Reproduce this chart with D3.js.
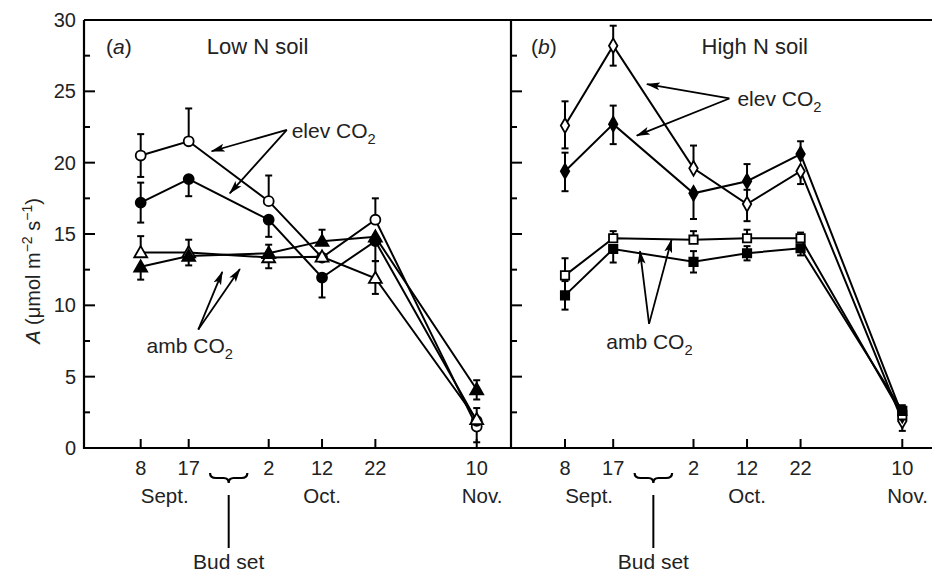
<!DOCTYPE html>
<html>
<head>
<meta charset="utf-8">
<script src="https://d3js.org/d3.v7.min.js"></script>
<style>
  body { margin: 0; background: white; }
  svg { display: block; }
  text { font-family: "Liberation Sans", Arial, sans-serif; fill: #222; }
  .series-line { fill: none; stroke: black; stroke-width: 2px; }
  .err { stroke: black; stroke-width: 2px; }
  .frame { fill: none; stroke: black; stroke-width: 2.2px; }
  .tick { stroke: black; stroke-width: 2px; }
  .arrow { stroke: black; stroke-width: 1.8px; fill: none; }
</style>
</head>
<body>
<script>
// sample dates, as days after 8 Sept
var sampleDays = [0, 9, 24, 34, 44, 63]
var dayLabels = ["8", "17", "2", "12", "22", "10"]
var monthLabels = ["Sept.", "Oct.", "Nov."]
var monthDays = [4.5, 34, 64]
var budSetDays = [13, 20]
var yTicks = [0, 5, 10, 15, 20, 25, 30]

// (a) Low N soil
var lowElevOpen = [20.5, 21.5, 17.3, 13.35, 16.0, 1.5]
var lowElevOpenUp = [1.5, 2.3, 1.8, 0, 1.5, 0]
var lowElevOpenDown = [1.5, 0, 0, 0, 0, 1.1]

var lowElevFilled = [17.2, 18.85, 16.0, 11.95, 14.5, 1.9]
var lowElevFilledUp = [1.4, 0, 0, 0, 0, 0]
var lowElevFilledDown = [1.4, 1.2, 1.2, 1.4, 1.4, 0]

var lowAmbOpen = [13.7, 13.7, 13.35, 13.4, 11.9, 2.0]
var lowAmbOpenUp = [1.15, 0.9, 0, 0, 1.2, 0.8]
var lowAmbOpenDown = [0, 0, 0.75, 0, 1.1, 0]

var lowAmbFilled = [12.7, 13.45, 13.65, 14.5, 14.8, 4.1]
var lowAmbFilledUp = [0, 0, 0.6, 0.8, 0, 0.65]
var lowAmbFilledDown = [0.9, 0.65, 0, 0, 0, 0.7]

// (b) High N soil
var highElevOpen = [22.6, 28.2, 19.6, 17.1, 19.4, 1.9]
var highElevOpenUp = [1.7, 1.4, 1.6, 1.0, 0, 0]
var highElevOpenDown = [1.6, 1.4, 0, 1.2, 0.9, 0.7]

var highElevFilled = [19.4, 22.7, 17.85, 18.7, 20.6, 2.3]
var highElevFilledUp = [1.3, 1.3, 0, 1.2, 0.9, 0]
var highElevFilledDown = [1.4, 1.4, 1.8, 0, 0, 0]

var highAmbOpen = [12.1, 14.7, 14.6, 14.7, 14.7, 2.3]
var highAmbOpenUp = [1.2, 0.5, 0.6, 0.6, 0.4, 0.7]
var highAmbOpenDown = [0, 0, 0, 0, 0, 0]

var highAmbFilled = [10.7, 13.95, 13.05, 13.65, 14.0, 2.6]
var highAmbFilledUp = [1.0, 0, 0.75, 0.5, 0, 0]
var highAmbFilledDown = [1.0, 0.95, 0.75, 0.5, 0.5, 0]

var width = 932, height = 573
var plotTop = 20, plotBottom = 448

var svg = d3.select("body").append("svg")
  .attr("width", width)
  .attr("height", height)

var defs = svg.append("defs")
defs.append("marker")
  .attr("id", "head")
  .attr("viewBox", "0 -5 14 10")
  .attr("refX", 13)
  .attr("refY", 0)
  .attr("markerWidth", 14)
  .attr("markerHeight", 10)
  .attr("markerUnits", "userSpaceOnUse")
  .attr("orient", "auto")
  .append("path")
  .attr("d", "M0,-4L14,0L0,4L3,0Z")
  .attr("fill", "black")

var y = d3.scaleLinear().domain([0, 30]).range([plotBottom, plotTop])

var panels = [
  {
    letter: "a", title: "Low N soil",
    range: [84, 511], domain: [-10.63, 69.43],
    series: [
      {v: lowElevOpen, up: lowElevOpenUp, down: lowElevOpenDown, shape: "circle", filled: false},
      {v: lowElevFilled, up: lowElevFilledUp, down: lowElevFilledDown, shape: "circle", filled: true},
      {v: lowAmbOpen, up: lowAmbOpenUp, down: lowAmbOpenDown, shape: "triangle", filled: false},
      {v: lowAmbFilled, up: lowAmbFilledUp, down: lowAmbFilledDown, shape: "triangle", filled: true}
    ],
    elev: {text: [28.3, 21.75], from: [27.4, 22.3], to: [[13.3, 20.8], [16.7, 17.85]]},
    amb: {text: [1.1, 6.65], from: [10.8, 8.3], to: [[15.3, 12.35], [18.6, 12.55]]}
  },
  {
    letter: "b", title: "High N soil",
    range: [511, 938], domain: [-10.09, 69.67],
    series: [
      {v: highElevOpen, up: highElevOpenUp, down: highElevOpenDown, shape: "diamond", filled: false},
      {v: highElevFilled, up: highElevFilledUp, down: highElevFilledDown, shape: "diamond", filled: true},
      {v: highAmbOpen, up: highAmbOpenUp, down: highAmbOpenDown, shape: "square", filled: false},
      {v: highAmbFilled, up: highAmbFilledUp, down: highAmbFilledDown, shape: "square", filled: true}
    ],
    elev: {text: [32.2, 23.95], from: [30.7, 24.5], to: [[15.3, 25.5], [13.4, 21.9]]},
    amb: {text: [7.7, 6.95], from: [15.7, 8.7], to: [[14.0, 13.8], [19.9, 14.6]]}
  }
]

var symbols = {
  circle: d3.symbol().type(d3.symbolCircle).size(78),
  triangle: d3.symbol().type(d3.symbolTriangle).size(72),
  square: d3.symbol().type(d3.symbolSquare).size(70),
  diamond: d3.symbol().type(d3.symbolDiamond).size(62)
}

function co2(sel, size) {
  sel.append("tspan").text("CO")
  sel.append("tspan").attr("dy", 6).style("font-size", (size * 0.7) + "px").text("2")
}

panels.forEach(function(p, pi) {
  var x = d3.scaleLinear().domain(p.domain).range(p.range)
  var g = svg.append("g")

  // left axis of panel with inward ticks
  var minor = d3.range(0, 30.1, 2.5)
  g.selectAll("line.ytick").data(minor).enter().append("line")
    .attr("class", "tick")
    .attr("x1", p.range[0]).attr("x2", function(d) { return p.range[0] + (d % 5 === 0 ? 11 : 6) })
    .attr("y1", y).attr("y2", y)

  if (pi === 0) {
    g.selectAll("text.ylab").data(yTicks).enter().append("text")
      .attr("x", p.range[0] - 8)
      .attr("y", function(d) { return y(d) + 7 })
      .attr("text-anchor", "end")
      .style("font-size", "20px")
      .text(function(d) { return d })
  }

  // x ticks inward
  g.selectAll("line.xtick").data(sampleDays).enter().append("line")
    .attr("class", "tick")
    .attr("x1", x).attr("x2", x)
    .attr("y1", plotBottom).attr("y2", plotBottom - 9)

  g.selectAll("text.xlab").data(sampleDays).enter().append("text")
    .attr("x", x)
    .attr("y", 475)
    .attr("text-anchor", "middle")
    .style("font-size", "20px")
    .text(function(d, i) { return dayLabels[i] })

  g.selectAll("text.month").data(monthDays).enter().append("text")
    .attr("x", x)
    .attr("y", 503)
    .attr("text-anchor", "middle")
    .style("font-size", "20.5px")
    .text(function(d, i) { return monthLabels[i] })

  // bud set brace
  var bx0 = x(budSetDays[0]), bx1 = x(budSetDays[1]), bc = (bx0 + bx1) / 2
  var by = 473
  g.append("path")
    .attr("d", "M" + bx0 + "," + by + " Q" + bx0 + "," + (by + 5) + " " + (bx0 + 6) + "," + (by + 5) +
      " L" + (bc - 5) + "," + (by + 5) + " Q" + bc + "," + (by + 5) + " " + bc + "," + (by + 10) +
      " Q" + bc + "," + (by + 5) + " " + (bc + 5) + "," + (by + 5) +
      " L" + (bx1 - 6) + "," + (by + 5) + " Q" + bx1 + "," + (by + 5) + " " + bx1 + "," + by)
    .attr("fill", "none").attr("stroke", "black").attr("stroke-width", 2.2)
  g.append("line")
    .attr("x1", bc).attr("x2", bc).attr("y1", 495).attr("y2", 548)
    .attr("stroke", "black").attr("stroke-width", 2)
  g.append("text")
    .attr("x", bc).attr("y", 569)
    .attr("text-anchor", "middle")
    .style("font-size", "21px")
    .text("Bud set")

  // series
  var line = d3.line().x(function(d, i) { return x(sampleDays[i]) }).y(function(d) { return y(d) })
  p.series.forEach(function(s) {
    g.append("path").attr("class", "series-line").attr("d", line(s.v))
  })
  p.series.forEach(function(s) {
    s.v.forEach(function(v, i) {
      var cx = x(sampleDays[i])
      if (s.up[i] > 0) {
        g.append("line").attr("class", "err").attr("x1", cx).attr("x2", cx).attr("y1", y(v)).attr("y2", y(v + s.up[i]))
        g.append("line").attr("class", "err").attr("x1", cx - 3.5).attr("x2", cx + 3.5).attr("y1", y(v + s.up[i])).attr("y2", y(v + s.up[i]))
      }
      if (s.down[i] > 0) {
        g.append("line").attr("class", "err").attr("x1", cx).attr("x2", cx).attr("y1", y(v)).attr("y2", y(v - s.down[i]))
        g.append("line").attr("class", "err").attr("x1", cx - 3.5).attr("x2", cx + 3.5).attr("y1", y(v - s.down[i])).attr("y2", y(v - s.down[i]))
      }
    })
  })
  p.series.forEach(function(s) {
    g.selectAll(null).data(s.v).enter().append("path")
      .attr("d", symbols[s.shape])
      .attr("transform", function(d, i) {
        var dy = s.shape === "triangle" ? 1 : 0
        return "translate(" + x(sampleDays[i]) + "," + (y(d) + dy) + ")"
      })
      .attr("fill", s.filled ? "black" : "white")
      .attr("stroke", "black")
      .attr("stroke-width", 1.8)
  })

  // panel titles
  var t = g.append("text").attr("x", p.range[0] + (pi === 0 ? 22 : 20)).attr("y", 54).style("font-size", "21px")
  t.append("tspan").text("(")
  t.append("tspan").style("font-style", "italic").text(p.letter)
  t.append("tspan").text(")")
  g.append("text")
    .attr("x", x(pi === 0 ? 12.4 : 25.5)).attr("y", 54)
    .style("font-size", "22px")
    .text(p.title)

  // annotations
  ;[["elev ", p.elev], ["amb ", p.amb]].forEach(function(a) {
    var ann = a[1]
    var tx = g.append("text")
      .attr("x", x(ann.text[0])).attr("y", y(ann.text[1]))
      .style("font-size", "21px")
    tx.append("tspan").text(a[0])
    co2(tx, 21)
    ann.to.forEach(function(end) {
      g.append("line").attr("class", "arrow")
        .attr("x1", x(ann.from[0])).attr("y1", y(ann.from[1]))
        .attr("x2", x(end[0])).attr("y2", y(end[1]))
        .attr("marker-end", "url(#head)")
    })
  })
})

// frame
svg.append("path").attr("class", "frame")
  .attr("d", "M84," + plotTop + " L84," + plotBottom + " L940," + plotBottom)
svg.append("line").attr("class", "frame")
  .attr("x1", 84).attr("x2", 940).attr("y1", plotTop).attr("y2", plotTop)
svg.append("line").attr("class", "frame")
  .attr("x1", 511).attr("x2", 511).attr("y1", plotTop).attr("y2", plotBottom)

// y axis title
var yt = svg.append("text")
  .attr("transform", "translate(40,271) rotate(-90)")
  .attr("text-anchor", "middle")
  .style("font-size", "20px")
yt.append("tspan").style("font-style", "italic").text("A")
yt.append("tspan").text(" (\u03bcmol m")
yt.append("tspan").attr("dy", -8).style("font-size", "14px").text("\u22122")
yt.append("tspan").attr("dy", 8).text(" s")
yt.append("tspan").attr("dy", -8).style("font-size", "14px").text("\u22121")
yt.append("tspan").attr("dy", 8).text(")")
</script>
</body>
</html>
